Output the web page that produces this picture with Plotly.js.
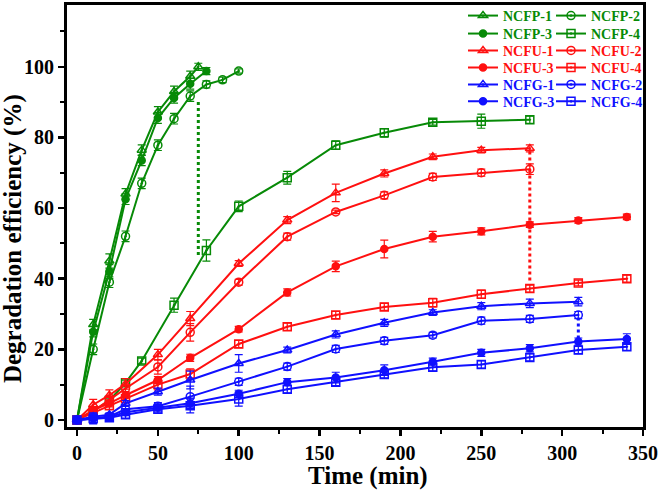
<!DOCTYPE html>
<html>
<head>
<meta charset="utf-8">
<script src="https://cdn.plot.ly/plotly-3.0.1.min.js"></script>
<style>html,body{margin:0;padding:0;background:#fff;}#chart{width:661px;height:492px;}</style>
</head>
<body>
<div id="chart"></div>
<script>
// ---- Data ----
const tP1 = [0,10,20,30,40,50,60,70,75];
const tP2 = [0,10,20,30,40,50,60,70,80,90,100];
const tP3 = [0,10,20,30,40,50,60,70,80];
const tP4 = [0,10,20,30,40,60,80,100,130,160,190,220,250,280];
const tU12 = [0,10,20,30,50,70,100,130,160,190,220,250,280];
const tU34 = [0,10,20,30,50,70,100,130,160,190,220,250,280,310,340];
const tG12 = [0,10,20,30,50,70,100,130,160,190,220,250,280,310];
const tG34 = [0,10,20,30,50,70,100,130,160,190,220,250,280,310,340];

const ncfp1 = [0,27,45,64,76.4,87.2,93,97.3,100];
const ncfp2 = [0,20,39,52,67,77.8,85.3,91.7,95,96.3,98.8];
const ncfp3 = [0,25,42,62.5,73.5,85.5,91.2,95.2,98.8];
const ncfp4 = [0,2.5,5.5,10.5,16.7,32.5,48,60.5,68.6,77.8,81.3,84.3,84.6,85.0];
const ncfu1 = [0,4.3,7,10.2,18.5,28.7,44.3,56.6,64.3,69.8,74.5,76.4,76.9];
const ncfu2 = [0,2.5,5.7,8.9,15,24.8,39,51.9,58.9,63.6,68.8,70,71];
const ncfu3 = [0,2.8,4.7,7,11.3,17.6,25.7,36.1,43.5,48.4,51.9,53.4,55.3,56.5,57.5];
const ncfu4 = [0,2,4,6,10,13,21.5,26.4,29.7,32,33.2,35.6,37.2,38.8,40];
const ncfg1 = [0,0.9,1.5,4.7,8,11.3,16,19.8,24.2,27.5,30.4,32.2,33,33.5];
const ncfg2 = [0,0.6,1,3,3.9,6.6,10.8,15.1,20.1,22.4,24,28.1,28.6,29.7];
const ncfg3 = [0,0.5,0.8,2.2,3.5,4.7,7.4,10.7,12,14.1,16.5,19,20.3,22.2,22.9];
const ncfg4 = [0,0.4,0.6,1.5,3,4,5.9,8.7,10.7,12.9,14.9,15.7,17.7,19.8,20.7];

const eP1 = [0.3,1.5,2,1.5,1.5,1.5,1.5,1.5,1];
const eP2 = [0.3,1.5,1.5,1.5,1.5,1.5,1.5,1.5,1,0.8,0.6];
const eP3 = [0.3,1.5,2,1.5,1.5,1.5,1.5,1.5,1];
const eP4 = [0.3,0.5,0.5,0.8,0.8,2,3,1.5,1.8,1.2,1.2,0.8,2,1];
const eU1 = [0.3,1.5,1.5,1.5,1.5,2,0.8,1,2.5,1,0.8,0.8,1];
const eU2 = [0.3,1,1,1,2,2.5,0.8,1,0.5,1,1,1,1.5];
const eU3 = [0.3,0.8,1,1,1,1,0.8,1,1.5,2.5,1.5,1,0.8,0.8,0.8];
const eU4 = [0.3,0.8,1,1,1.5,1.5,1,1,1,1,1.2,1.2,1,0.8,1];
const eG1 = [0.3,0.5,0.5,0.8,1,2.5,2.5,0.8,1,1,0.8,1,1.2,1.2];
const eG2 = [0.3,0.5,0.5,0.8,1,3,1,1,1,1,0.8,1,1,1];
const eG3 = [0.3,1.5,1,1,1,1.5,1,1,1.5,1.5,1,1,1,1,1.5];
const eG4 = [0.3,1.5,1,1,1,2,2,1,1,1,1,1,1,1,1];

// drop lines (dotted)
const dropGX = [75,75], dropGY = [90,46];
const dropUX = [280,280], dropUY = [76,39];
const dropGBX = [310,310], dropGBY = [29,22.5];

const names = ['NCFP-1','NCFP-2','NCFP-3','NCFP-4','NCFU-1','NCFU-2','NCFU-3','NCFU-4','NCFG-1','NCFG-2','NCFG-3','NCFG-4'];
const xTitle = 'Time (min)';
const yTitle = 'Degradation efficiency (%)';

// ---- Styles ----
const GREEN='#078a07', RED='#ff1010', BLUE='#1010ff';
const FONT='Liberation Serif, Times New Roman, serif';
const symbols = ['triangle-up-open-dot','circle-open-dot','circle','square-open-dot'];

const sets = [
  [tP1,ncfp1,eP1,GREEN,0],[tP2,ncfp2,eP2,GREEN,1],[tP3,ncfp3,eP3,GREEN,2],[tP4,ncfp4,eP4,GREEN,3],
  [tU12,ncfu1,eU1,RED,0],[tU12,ncfu2,eU2,RED,1],[tU34,ncfu3,eU3,RED,2],[tU34,ncfu4,eU4,RED,3],
  [tG12,ncfg1,eG1,BLUE,0],[tG12,ncfg2,eG2,BLUE,1],[tG34,ncfg3,eG3,BLUE,2],[tG34,ncfg4,eG4,BLUE,3]
];

const traces = [];
const legends = {};
const colX = [0.6875, 0.8403];
const rowY = [0.974, 0.9314, 0.8913, 0.8511, 0.8109, 0.7707];

sets.forEach((s,i)=>{
  const lname = i===0 ? 'legend' : 'legend'+(i+1);
  traces.push({
    x:s[0], y:s[1], type:'scatter', mode:'lines+markers', name:names[i],
    legend:lname,
    line:{color:s[3], width:2},
    marker:{symbol:symbols[s[4]], size: s[4]===2?7:8, color:s[3], line:{color:s[3], width:1.5}},
    error_y:{type:'data', array:s[2], visible:true, color:s[3], thickness:1.2, width:4}
  });
  legends[lname] = {
    x: colX[i%2], y: rowY[Math.floor(i/2)], xanchor:'left', yanchor:'middle',
    bgcolor:'rgba(0,0,0,0)', borderwidth:0, itemwidth:30,
    font:{family:FONT, size:14, color:s[3], weight:'bold'}
  };
});

[[dropGX,dropGY,GREEN],[dropUX,dropUY,RED],[dropGBX,dropGBY,BLUE]].forEach(d=>{
  traces.push({x:d[0], y:d[1], type:'scatter', mode:'lines', showlegend:false,
    line:{color:d[2], width:3, dash:'dot'}, hoverinfo:'skip'});
});

const axisFont = {family:FONT, size:20, color:'#000', weight:'bold'};
const titleFont = {family:FONT, size:25, color:'#000', weight:'bold'};
const layout = Object.assign({
  width:661, height:492,
  margin:{l:67, r:18, t:5, b:65, autoexpand:false},
  paper_bgcolor:'#fff', plot_bgcolor:'#fff',
  showlegend:true,
  xaxis:{
    range:[-6.2,350], tickvals:[0,50,100,150,200,250,300,350],
    showgrid:false, zeroline:false, showline:true, mirror:true, linecolor:'#000', linewidth:3,
    ticks:'outside', ticklen:6, tickwidth:2.5, tickcolor:'#000',
    minor:{dtick:25, tick0:0, ticks:'outside', ticklen:4, tickwidth:2, tickcolor:'#000', showgrid:false},
    tickfont:axisFont
  },
  yaxis:{
    range:[-2,117.5], tickvals:[0,20,40,60,80,100],
    showgrid:false, zeroline:false, showline:true, mirror:true, linecolor:'#000', linewidth:3,
    ticks:'outside', ticklen:6, tickwidth:2.5, tickcolor:'#000',
    minor:{dtick:10, tick0:0, ticks:'outside', ticklen:4, tickwidth:2, tickcolor:'#000', showgrid:false},
    tickfont:axisFont
  },
  annotations:[
    {text:xTitle, xref:'paper', yref:'paper', x:0.5226, y:-0.117, xanchor:'center', yanchor:'middle',
     showarrow:false, font:titleFont},
    {text:yTitle, xref:'paper', yref:'paper', x:-0.0925, y:0.447, xanchor:'center', yanchor:'middle',
     textangle:-90, showarrow:false, font:titleFont}
  ]
}, legends);

Plotly.newPlot('chart', traces, layout, {displayModeBar:false, staticPlot:true});
</script>
</body>
</html>
